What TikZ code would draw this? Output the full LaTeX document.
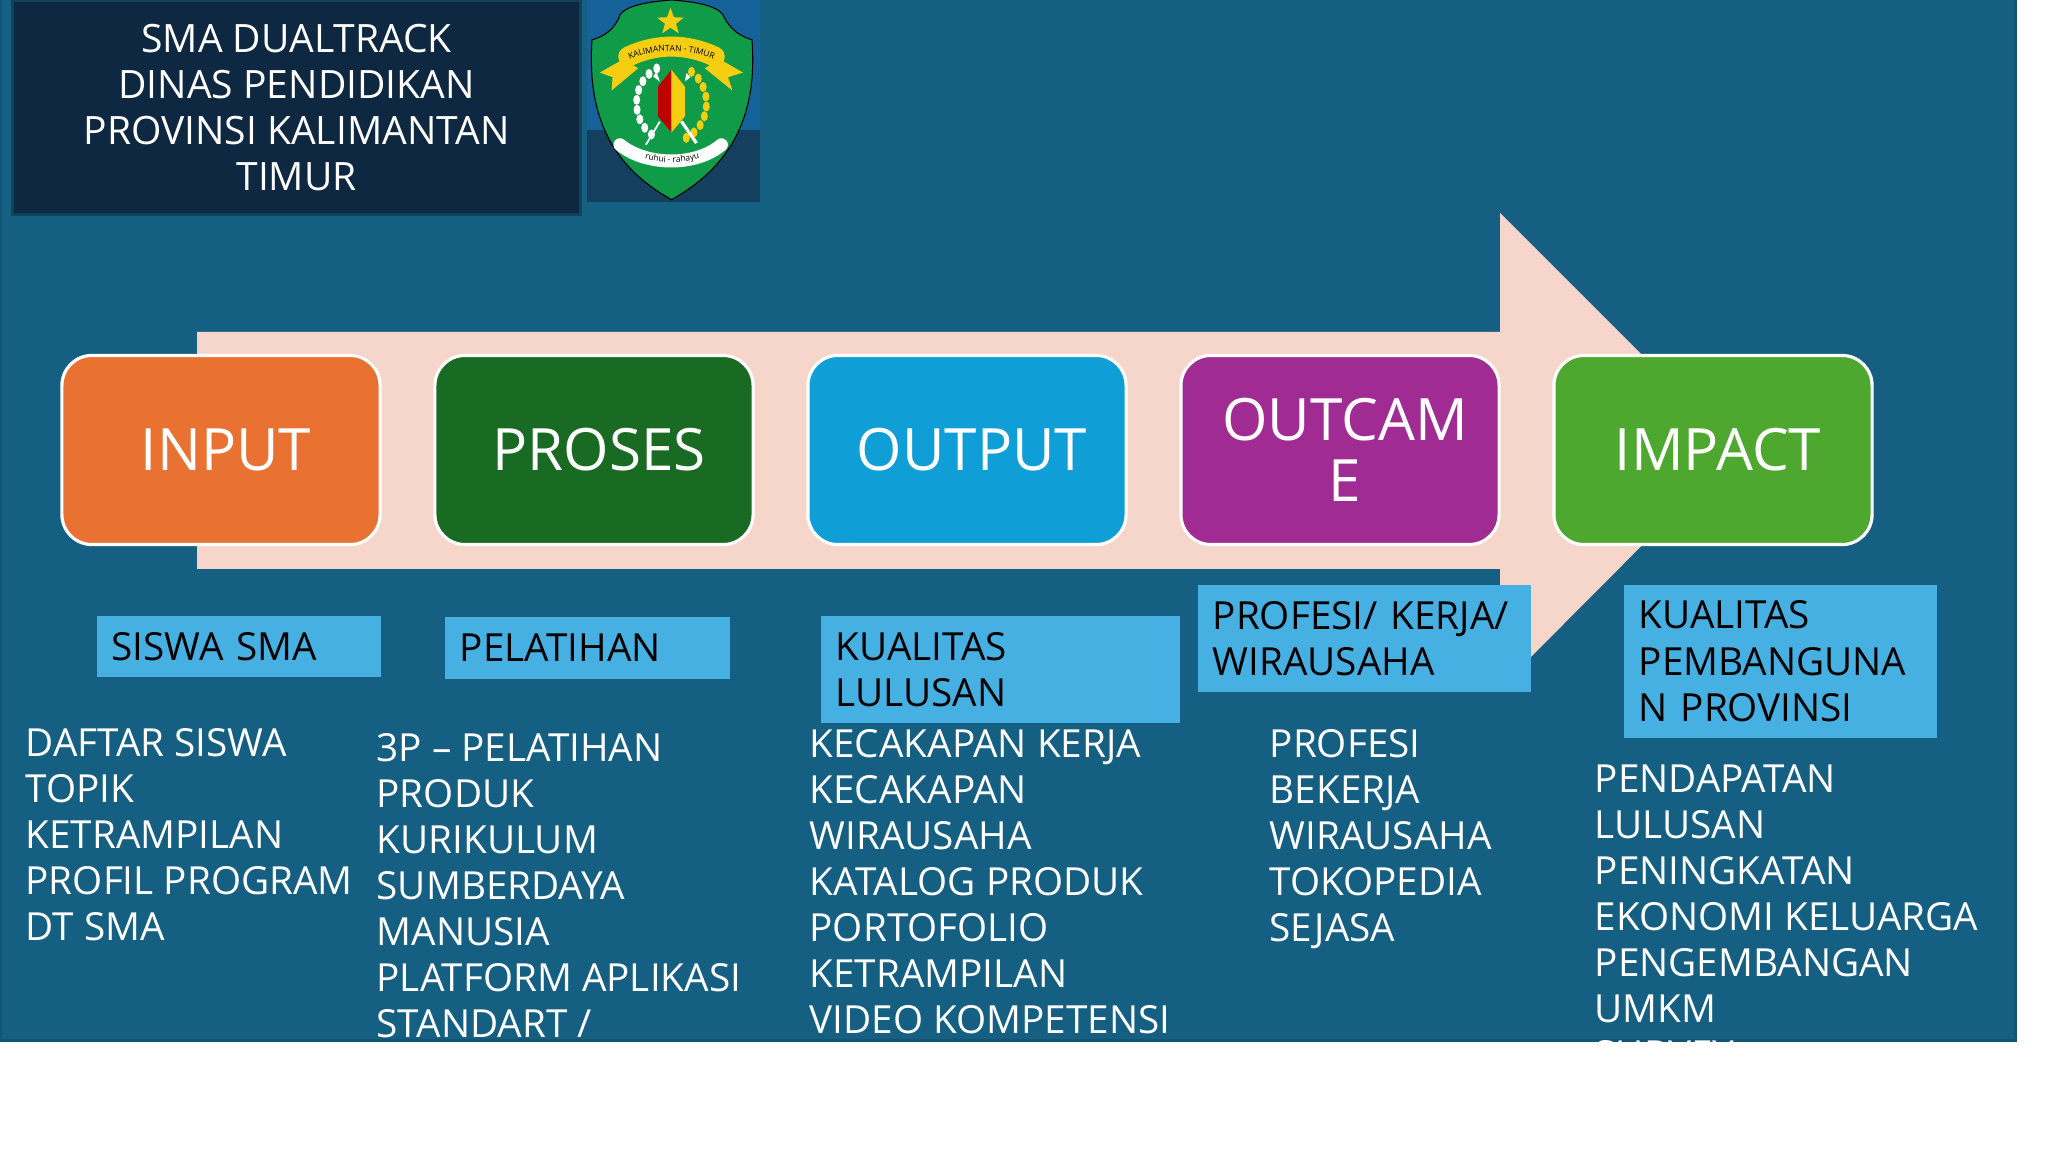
\documentclass[tikz,border=0pt]{standalone}
\usepackage{fontspec}
\setmainfont{Open Sans}
\usetikzlibrary{shapes.geometric,decorations.text}
\definecolor{panelblue}{HTML}{156082}
\definecolor{titlenavy}{HTML}{0E2841}
\definecolor{arrowpink}{HTML}{F6D5CB}
\definecolor{tagblue}{HTML}{45B0E1}
\definecolor{inputorange}{HTML}{E97132}
\definecolor{prosesgreen}{HTML}{196B24}
\definecolor{outputcyan}{HTML}{0F9ED5}
\definecolor{outcomepurple}{HTML}{A02B93}
\definecolor{impactgreen}{HTML}{4EA72E}
\definecolor{logogreen}{HTML}{0F9B48}
\definecolor{logoyellow}{HTML}{F5CE12}
\definecolor{logoblue}{HTML}{15619A}
\definecolor{logodark}{HTML}{153F5E}
\begin{document}
\begin{tikzpicture}[x=0.01cm,y=-0.01cm,
stagebox/.style={draw=white,line width=0.9pt,rounded corners=0.3cm,minimum width=3.18cm,minimum height=1.89cm,inner sep=0pt,align=center,text=white,font=\fontsize{16.6}{17}\selectfont},
tagbox/.style={fill=tagblue,anchor=north west,inner sep=0pt,inner xsep=0.15cm,align=left,text=black,font=\fontsize{11}{13.1}\selectfont},
listtext/.style={anchor=north west,inner sep=0pt,align=left,text=white,font=\fontsize{11}{13.07}\selectfont},
bead/.style={ellipse,inner sep=0pt,minimum width=0.07cm,minimum height=0.1cm}]
\useasboundingbox (0,0) rectangle (2048,1152);
% panel
\fill[white] (0,0) rectangle (2048,1152);
\fill[panelblue!88!black] (0,0) rectangle (2017,1042);
\fill[panelblue] (2,0) rectangle (2014,1039);
% title
\node[fill=titlenavy,draw=panelblue!70!black,line width=0.8pt,anchor=north west,minimum width=5.68cm,minimum height=2.14cm,inner sep=0pt,text=white,align=center,font=\fontsize{11.1}{13.1}\selectfont] (title) at (11,-1) {SMA DUALTRACK\\DINAS PENDIDIKAN\\PROVINSI KALIMANTAN\\TIMUR};
% logo
\begin{scope}[shift={(560,0)},x=0.00333cm,y=-0.00333cm]
\fill[logoblue] (80,0) rectangle (600,390);
\fill[logodark] (80,390) rectangle (600,608);
\draw[fill=logogreen,line width=0.3pt] (335,0) .. controls (400,5) and (470,15) .. (490,45) .. controls (510,90) and (545,110) .. (577,120) .. controls (590,300) and (550,480) .. (335,600) .. controls (120,480) and (85,300) .. (96,120) .. controls (130,110) and (165,90) .. (180,45) .. controls (200,15) and (270,5) .. (335,0) -- cycle;
\node[star,star points=5,star point ratio=2.4,fill=logoyellow,inner sep=0pt,minimum size=0.28cm] (logostar) at (332,66) {};
\fill[logoyellow] (120,218) -- (190,178) -- (235,205) -- (155,272) -- (158,232) -- cycle;
\fill[logoyellow] (550,218) -- (480,178) -- (435,205) -- (518,272) -- (505,232) -- cycle;
\draw[logoyellow,line width=0.2cm,line cap=round] (205,170) .. controls (290,130) and (380,130) .. (465,170);
\path[decorate,decoration={text along path,text align=center,text={|\fontsize{2.4}{3}\selectfont|KALIMANTAN - TIMUR}}] (205,180) .. controls (290,145) and (380,145) .. (465,180);
\foreach \a in {115,130,...,245} \node[bead,fill=white] at ({335+105*cos(\a)},{310-115*sin(\a)}) {};
\foreach \a in {-65,-50,...,65} \node[bead,fill=logoyellow] at ({335+105*cos(\a)},{310-115*sin(\a)}) {};
\draw[white,line width=0.5pt] (258,435) -- (300,365);
\draw[white,line width=0.9pt] (410,430) -- (365,365);
\fill[white] (290,215) -- (300,245) -- (280,230) -- cycle;
\fill[white] (380,220) -- (375,245) -- (392,232) -- cycle;
\fill[red!75!black] (335,210) -- (295,260) -- (295,350) -- (335,398) -- cycle;
\fill[logoyellow] (335,210) -- (375,260) -- (375,350) -- (335,398) -- cycle;
\draw[white,line width=0.13cm,line cap=round] (180,435) .. controls (260,500) and (410,500) .. (485,435);
\path[decorate,decoration={text along path,text align=center,text={|\fontsize{2.4}{3}\selectfont|ruhui - rahayu}}] (205,452) .. controls (280,500) and (390,500) .. (470,452);
\end{scope}
% arrow behind the stages
\fill[arrowpink] (197,332) -- (1500,332) -- (1500,213) -- (1737,450) -- (1500,688) -- (1500,569) -- (197,569) -- cycle;
% stages
\node[stagebox,fill=inputorange] (input) at (221,450) {\hspace*{0.1cm}INPUT};
\node[stagebox,fill=prosesgreen] (proses) at (594,450) {\hspace*{0.1cm}PROSES};
\node[stagebox,fill=outputcyan] (output) at (967,450) {\hspace*{0.1cm}OUTPUT};
\node[stagebox,fill=outcomepurple,font=\fontsize{16.6}{17.5}\selectfont] (outcome) at (1340,450) {\hspace*{0.1cm}OUTCAM\\\hspace*{0.1cm}E};
\node[stagebox,fill=impactgreen] (impact) at (1713,450) {\hspace*{0.1cm}IMPACT};
% tags
\node[tagbox,text width=2.54cm,minimum height=0.61cm] (tagsiswa) at (96,615) {SISWA SMA};
\node[tagbox,text width=2.55cm,minimum height=0.62cm] (tagpelatihan) at (444,616) {PELATIHAN};
\node[tagbox,text width=3.29cm,minimum height=1.07cm] (taglulusan) at (820,615) {KUALITAS\\LULUSAN};
\node[tagbox,text width=3.03cm,minimum height=1.07cm] (tagprofesi) at (1197,584) {PROFESI/ KERJA/\\WIRAUSAHA};
\node[tagbox,text width=2.83cm,minimum height=1.53cm] (tagprovinsi) at (1623,584) {KUALITAS\\PEMBANGUNA\\N PROVINSI};
% lists, cut by the panel edge
\begin{scope}
\clip (0,0) rectangle (2017,1042);
\node[listtext] (listinput) at (25,728) {DAFTAR SISWA\\TOPIK\\KETRAMPILAN\\PROFIL PROGRAM\\DT SMA};
\node[listtext] (listproses) at (376,733) {3P -- PELATIHAN\\PRODUK\\KURIKULUM\\SUMBERDAYA\\MANUSIA\\PLATFORM APLIKASI\\STANDART /};
\node[listtext] (listoutput) at (809,729) {KECAKAPAN KERJA\\KECAKAPAN\\WIRAUSAHA\\KATALOG PRODUK\\PORTOFOLIO\\KETRAMPILAN\\VIDEO KOMPETENSI};
\node[listtext] (listoutcome) at (1269,729) {PROFESI\\BEKERJA\\WIRAUSAHA\\TOKOPEDIA\\SEJASA};
\node[listtext] (listimpact) at (1594,764) {PENDAPATAN\\LULUSAN\\PENINGKATAN\\EKONOMI KELUARGA\\PENGEMBANGAN\\UMKM\\SURVEY};
\end{scope}
\end{tikzpicture}
\end{document}
